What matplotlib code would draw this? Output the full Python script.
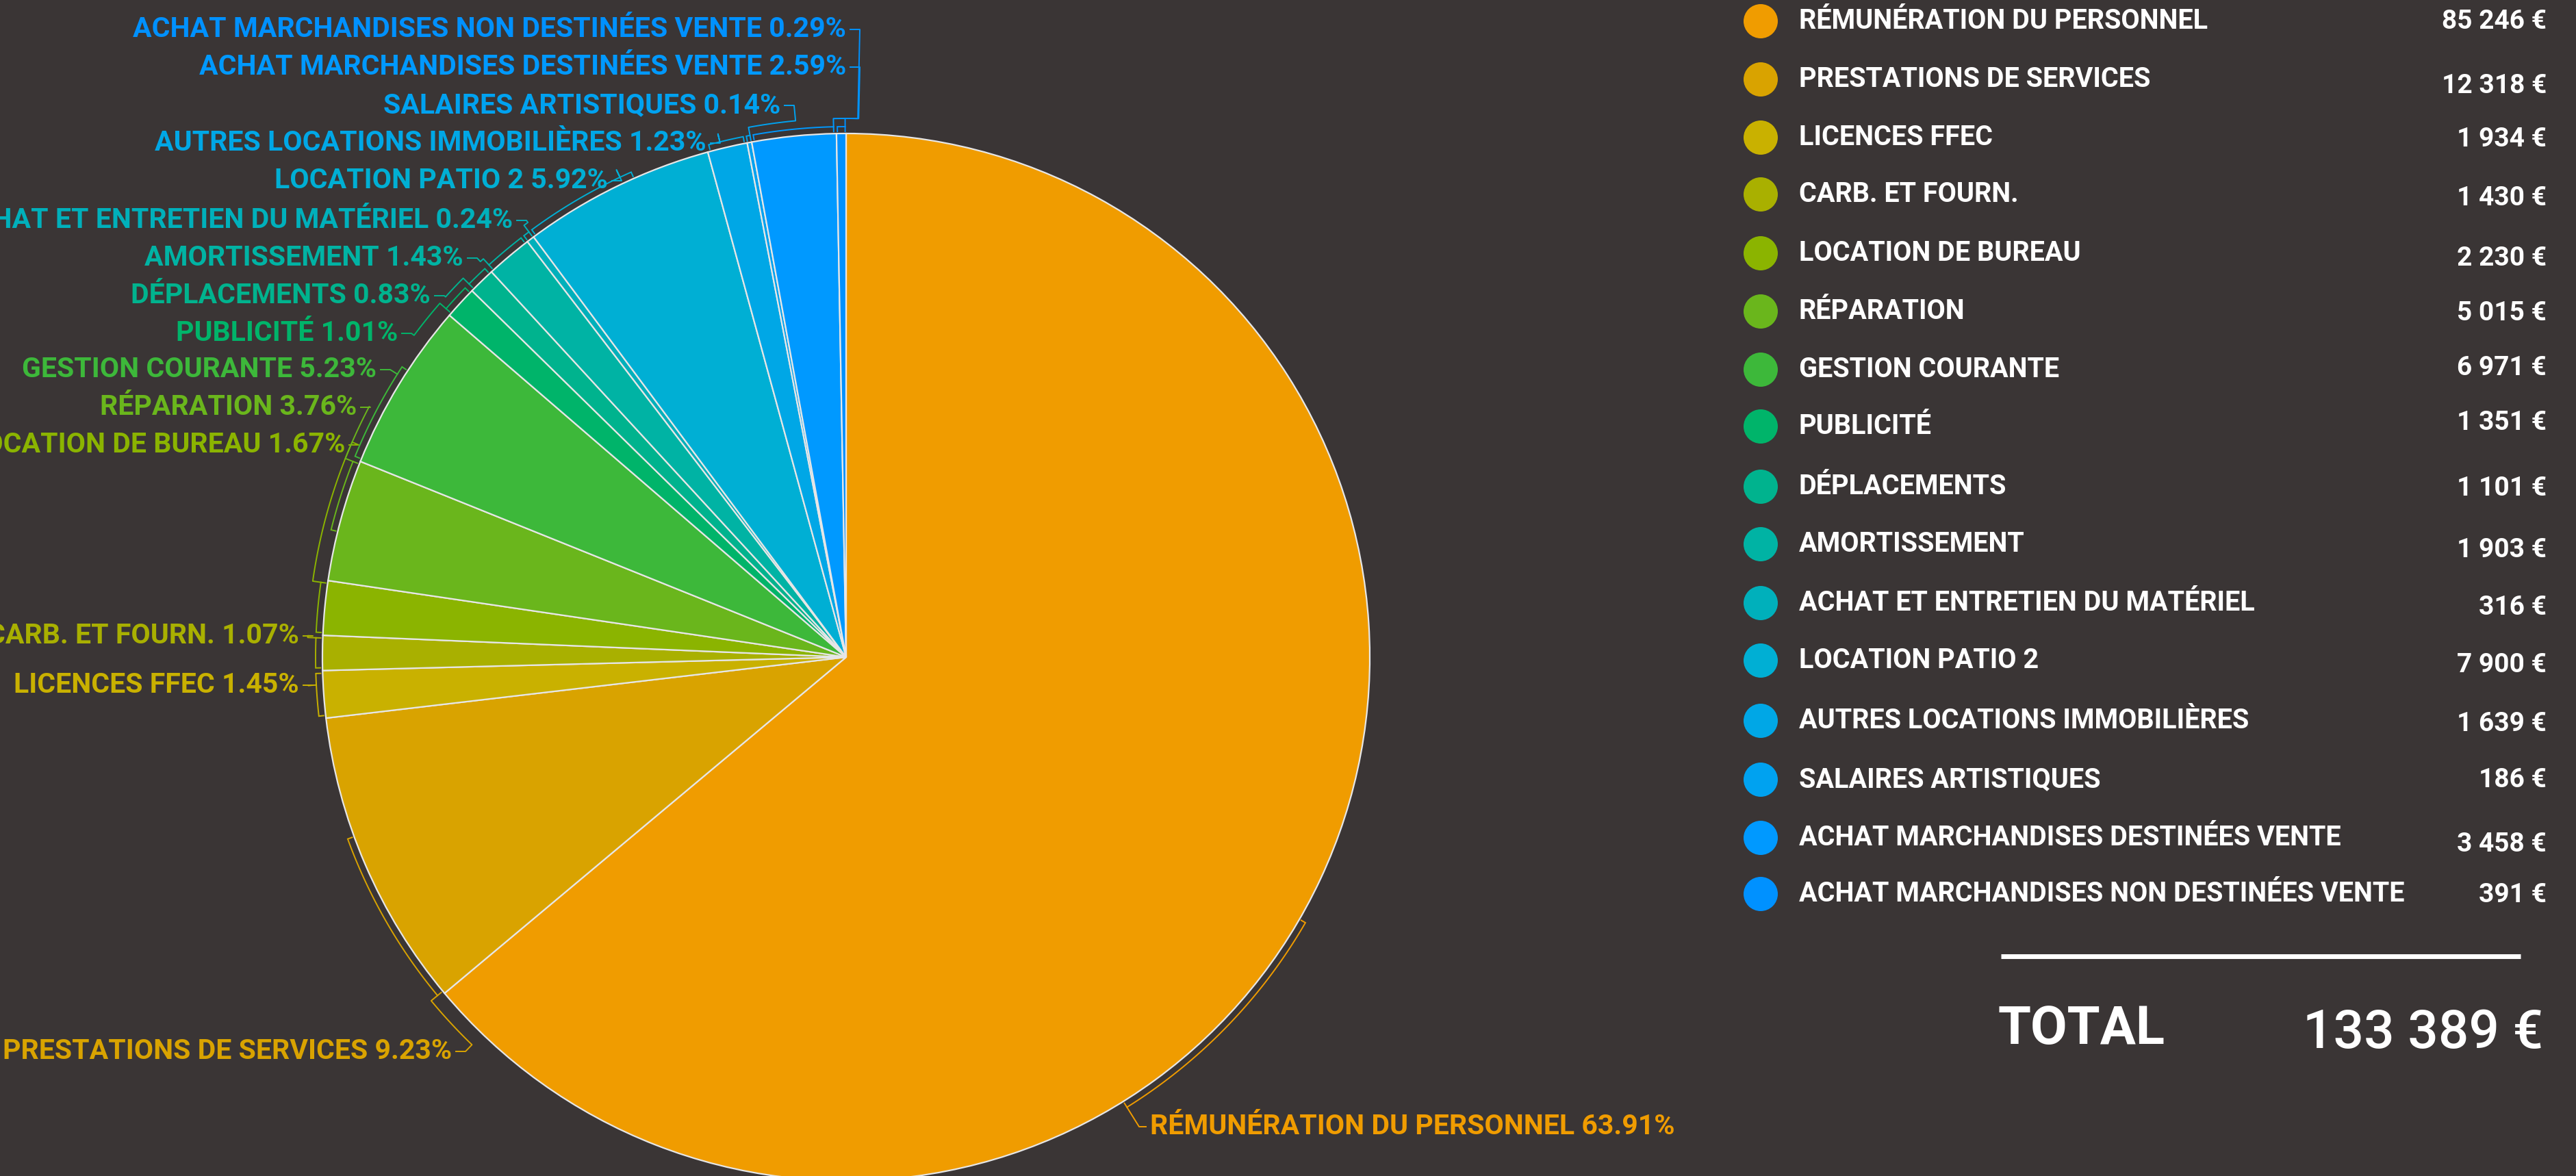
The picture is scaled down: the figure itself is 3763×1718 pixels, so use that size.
import numpy as np
import matplotlib
matplotlib.use("Agg")
from matplotlib import pyplot as plt
from matplotlib.patches import Circle

categories = ["RÉMUNÉRATION DU PERSONNEL", "PRESTATIONS DE SERVICES", "LICENCES FFEC",
              "CARB. ET FOURN.", "LOCATION DE BUREAU", "RÉPARATION", "GESTION COURANTE",
              "PUBLICITÉ", "DÉPLACEMENTS", "AMORTISSEMENT", "ACHAT ET ENTRETIEN DU MATÉRIEL",
              "LOCATION PATIO 2", "AUTRES LOCATIONS IMMOBILIÈRES", "SALAIRES ARTISTIQUES",
              "ACHAT MARCHANDISES DESTINÉES VENTE", "ACHAT MARCHANDISES NON DESTINÉES VENTE"]
amounts = [85246, 12318, 1934, 1430, 2230, 5015, 6971, 1351, 1101, 1903, 316, 7900,
           1639, 186, 3458, 391]
colors = ["#f09c00", "#d9a300", "#c9b100", "#a9b000", "#8bb400", "#6ab61c", "#3db83a",
          "#00b46a", "#00b38e", "#00b3a4", "#00b0bb", "#00afd4", "#00a7e6", "#00a2f0",
          "#0099ff", "#0091ff"]

# layout, in pixels of the 3763 x 1718 picture
W, H = 3763, 1718
cx, cy, R = 1236, 960, 765
# slice label anchors (end of text nearest the pie)
label_x = [1680, 660, 437, 437, 504, 521, 550, 581, 629, 677, 749, 888, 1032, 1140, 1236, 1236]
label_y = [1646, 1536, 1001, 929, 650, 595, 540, 487, 432, 377, 322, 264, 209, 154, 98, 43]
legend_y = [31, 116, 201, 284, 370, 455, 540, 623, 711, 795, 881, 965, 1053, 1139, 1224, 1306]
value_y = [31, 125, 203, 289, 377, 458, 538, 618, 713, 803, 887, 971, 1057, 1139, 1233, 1307]

bg = "#3a3535"
FONT = "Roboto"

fig = plt.figure(figsize=(W / 100, H / 100), dpi=100, facecolor=bg)
ax = fig.add_axes([0, 0, 1, 1])
ax.set_facecolor(bg)

# y axis points down, so counterclockwise in data is clockwise on screen
ax.pie(amounts, colors=colors, center=(cx, cy), radius=R, startangle=-90,
       counterclock=True,
       wedgeprops=dict(edgecolor="#e6e6e6", linewidth=1.6))
ax.set_xlim(0, W)
ax.set_ylim(H, 0)
ax.set_aspect("equal")
ax.axis("off")


def pt(phi, r):
    a = np.radians(phi)
    return cx + r * np.sin(a), cy - r * np.cos(a)


def arc(p0, p1, r):
    ph = np.linspace(p0, p1, max(2, int(abs(p1 - p0) * 3)))
    return pt(ph, r)


total = sum(amounts)
edges = np.concatenate([[0], np.cumsum(amounts)]) / total * 360

for i, (name, v) in enumerate(zip(categories, amounts)):
    col = colors[i]
    pct = v / total * 100
    phi0, phi1 = edges[i], edges[i + 1]
    left = i == 0
    lx, ly = label_x[i], label_y[i]
    ax.text(lx, ly, f"{name} {pct:.2f}%", color=col, fontsize=29.5, family=FONT,
            weight="bold", ha="left" if left else "right", va="center")
    # leader end
    ex = lx - 6 if left else lx + 6
    sx = ex - 10 if left else ex + 14
    phl = np.degrees(np.arctan2(sx - cx, -(ly - cy))) % 360
    if phl < phi0 - 180:
        phl += 360
    inset = min(0.3, (phi1 - phi0) * 0.1)
    lo, hi = phi0 + inset, phi1 - inset
    span = hi - lo if hi - lo < 10 else min(28, 0.6 * (hi - lo))
    c = min(max(phl, lo), hi)
    if c - span >= lo:
        b0, b1 = c - span, c
    else:
        b0, b1 = lo, min(hi, lo + span)
    # bracket along the slice
    bx, by = arc(b0, b1, R + 10)
    t0 = pt(b0, R + 3)
    t1 = pt(b1, R + 3)
    ax.plot(np.r_[t0[0], bx, t1[0]], np.r_[t0[1], by, t1[1]], color=col, lw=1.4,
            solid_joinstyle="miter")
    # leader to label
    p_a = pt(c, R + 10)
    ax2, ay2 = arc(c, phl, R + 22)
    ax.plot(np.r_[p_a[0], ax2, sx, ex], np.r_[p_a[1], ay2, ly, ly], color=col, lw=1.4)

# legend
for i, (name, v) in enumerate(zip(categories, amounts)):
    ax.add_patch(Circle((2572, legend_y[i]), 25, color=colors[i], lw=0))
    ax.text(2628, legend_y[i], name, color="white", fontsize=28.5, family=FONT,
            weight="bold", ha="left", va="center")
    ax.text(3720, value_y[i], f"{v:,}".replace(",", " ") + " €", color="white",
            fontsize=28, family=FONT, weight="bold", ha="right", va="center")

ax.plot([2923, 3682], [1397, 1397], color="white", lw=5, solid_capstyle="butt")
ax.text(2919, 1504, "TOTAL", color="white", fontsize=56, family=FONT, weight="bold",
        ha="left", va="center")
ax.text(3715, 1509, f"{total:,}".replace(",", " ") + " €", color="white", fontsize=56.5,
        family=FONT, weight="medium", ha="right", va="center")

fig.savefig("out.png", dpi=100, facecolor=bg)
